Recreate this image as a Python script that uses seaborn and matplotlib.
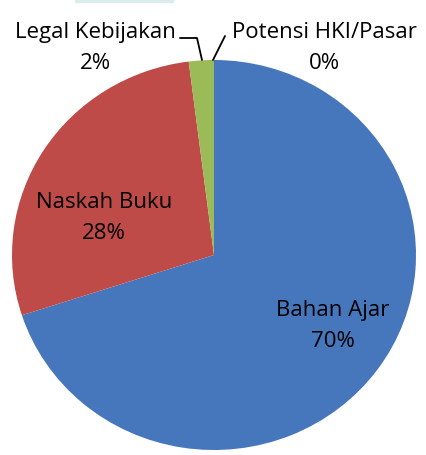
import matplotlib
matplotlib.use("Agg")
import matplotlib.pyplot as plt
import seaborn as sns
from matplotlib.patches import Rectangle

categories = ["Bahan Ajar", "Naskah Buku", "Legal Kebijakan", "Potensi HKI/Pasar"]
values = [70, 28, 2, 0]
pct_labels = ["70%", "28%", "2%", "0%"]
colors = ["#4677bc", "#be4b48", "#9bbb59", "#8064a2"]

sns.set_theme(style="white")
plt.rcParams["font.family"] = ["Open Sans", "DejaVu Sans"]

W, H = 426, 456
fig = plt.figure(figsize=(W / 100, H / 100), dpi=100)
fig.patch.set_facecolor("white")

cx, cy, rx, ry = 214, 256, 202, 195
ax = fig.add_axes([(cx - rx) / W, (H - cy - ry) / H, 2 * rx / W, 2 * ry / H])
ax.pie(values, colors=colors, startangle=90, counterclock=False, radius=1,
       wedgeprops=dict(linewidth=0))
ax.set_aspect("auto")
ax.set_xlim(-1, 1)
ax.set_ylim(-1, 1)
ax.axis("off")

def px(x, y):
    return ((x - cx) / rx, (cy - y) / ry)

fs = 16
pos = {
    "Bahan Ajar": (333, 326),
    "Naskah Buku": (104, 218),
    "Legal Kebijakan": (95, 48),
    "Potensi HKI/Pasar": (324, 48),
}
for cat, p in zip(categories, pct_labels):
    x, y = px(*pos[cat])
    ax.text(x, y, f"{cat}\n{p}", ha="center", va="center", fontsize=fs,
            linespacing=1.6, color="black", clip_on=False)

# leader lines
for pts in [[(180, 39), (197, 39), (202, 61)], [(225, 37), (213, 61)]]:
    xs, ys = zip(*[px(*q) for q in pts])
    ax.plot(xs, ys, color="black", lw=1.3, clip_on=False)

fig.patches.append(Rectangle((75 / W, (H - 3) / H), 98 / W, 3 / H,
                             transform=fig.transFigure, color="#dcecec", zorder=0))

fig.savefig("out.png", dpi=100)
